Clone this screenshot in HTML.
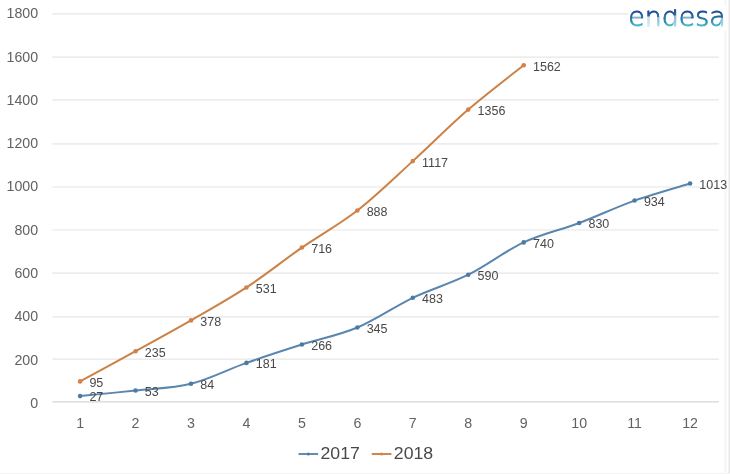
<!DOCTYPE html>
<html lang="es">
<head>
<meta charset="utf-8">
<title>endesa 2017 - 2018</title>
<style>
html,body{margin:0;padding:0;background:#fff;}
body{width:730px;height:474px;overflow:hidden;}
svg{display:block;will-change:transform;filter:blur(0.4px);}
text{font-family:"Liberation Sans",sans-serif;}
.ax{font-size:14.2px;fill:#626262;}
.dl{font-size:12.5px;fill:#484848;}
.lg{font-size:16.2px;fill:#484848;}
.logo{font-family:"DejaVu Sans Light","DejaVu Sans",sans-serif;font-weight:200;font-size:27px;}
</style>
</head>
<body>
<svg width="730" height="474" viewBox="0 0 730 474">
<defs>
<linearGradient id="lg1" gradientUnits="userSpaceOnUse" x1="0" y1="9.5" x2="0" y2="26.5">
<stop offset="0" stop-color="#1c3f8e"/>
<stop offset="0.4" stop-color="#22669f"/>
<stop offset="0.75" stop-color="#2b93ad"/>
<stop offset="1" stop-color="#4fc3d4"/>
</linearGradient>
<clipPath id="lc"><rect x="620" y="9.3" width="110" height="21"/></clipPath>
</defs>
<rect x="0" y="0" width="730" height="474" fill="#ffffff"/>
<rect x="724.2" y="0" width="2.4" height="474" fill="#f7f7f8"/>
<rect x="728.5" y="0" width="1.5" height="474" fill="#e8e8ea"/>
<rect x="0" y="472.8" width="730" height="1.2" fill="#f4f4f4"/>

<line x1="52.4" y1="359.10" x2="718.9" y2="359.10" stroke="#e6e6e6" stroke-width="1.2"/>
<line x1="52.4" y1="316.80" x2="718.9" y2="316.80" stroke="#e6e6e6" stroke-width="1.2"/>
<line x1="52.4" y1="273.10" x2="718.9" y2="273.10" stroke="#e6e6e6" stroke-width="1.2"/>
<line x1="52.4" y1="230.00" x2="718.9" y2="230.00" stroke="#e6e6e6" stroke-width="1.2"/>
<line x1="52.4" y1="187.00" x2="718.9" y2="187.00" stroke="#e6e6e6" stroke-width="1.2"/>
<line x1="52.4" y1="143.80" x2="718.9" y2="143.80" stroke="#e6e6e6" stroke-width="1.2"/>
<line x1="52.4" y1="99.90" x2="718.9" y2="99.90" stroke="#e6e6e6" stroke-width="1.2"/>
<line x1="52.4" y1="57.20" x2="718.9" y2="57.20" stroke="#e6e6e6" stroke-width="1.2"/>
<line x1="52.4" y1="13.90" x2="718.9" y2="13.90" stroke="#e6e6e6" stroke-width="1.2"/>
<line x1="52.4" y1="401.90" x2="718.9" y2="401.90" stroke="#d6d6d6" stroke-width="1.2"/>
<text class="ax" x="38.1" y="408.00" text-anchor="end">0</text>
<text class="ax" x="38.1" y="364.50" text-anchor="end">200</text>
<text class="ax" x="38.1" y="321.20" text-anchor="end">400</text>
<text class="ax" x="38.1" y="278.10" text-anchor="end">600</text>
<text class="ax" x="38.1" y="234.50" text-anchor="end">800</text>
<text class="ax" x="38.1" y="191.20" text-anchor="end">1000</text>
<text class="ax" x="38.1" y="148.20" text-anchor="end">1200</text>
<text class="ax" x="38.1" y="105.00" text-anchor="end">1400</text>
<text class="ax" x="38.1" y="62.00" text-anchor="end">1600</text>
<text class="ax" x="38.1" y="18.00" text-anchor="end">1800</text>
<text class="ax" x="80.10" y="427.8" text-anchor="middle">1</text>
<text class="ax" x="135.55" y="427.8" text-anchor="middle">2</text>
<text class="ax" x="191.00" y="427.8" text-anchor="middle">3</text>
<text class="ax" x="246.45" y="427.8" text-anchor="middle">4</text>
<text class="ax" x="301.90" y="427.8" text-anchor="middle">5</text>
<text class="ax" x="357.35" y="427.8" text-anchor="middle">6</text>
<text class="ax" x="412.80" y="427.8" text-anchor="middle">7</text>
<text class="ax" x="468.25" y="427.8" text-anchor="middle">8</text>
<text class="ax" x="523.70" y="427.8" text-anchor="middle">9</text>
<text class="ax" x="579.15" y="427.8" text-anchor="middle">10</text>
<text class="ax" x="634.60" y="427.8" text-anchor="middle">11</text>
<text class="ax" x="690.05" y="427.8" text-anchor="middle">12</text>
<path d="M80.10,396.08 C89.34,395.15 117.07,392.52 135.55,390.48 C154.03,388.43 172.52,388.39 191.00,383.79 C209.48,379.19 227.97,369.42 246.45,362.88 C264.93,356.35 283.42,350.45 301.90,344.56 C320.38,338.67 338.87,335.33 357.35,327.53 C375.83,319.74 394.32,306.59 412.80,297.79 C431.28,288.98 449.77,283.96 468.25,274.72 C486.73,265.49 505.22,251.01 523.70,242.39 C542.18,233.77 560.67,229.96 579.15,222.99 C597.63,216.02 616.12,207.15 634.60,200.57 C653.08,194.00 680.81,186.38 690.05,183.54" fill="none" stroke="#5a87af" stroke-width="2" stroke-linejoin="round" stroke-linecap="round"/>
<circle cx="80.10" cy="396.08" r="2.3" fill="#4c7aa6"/>
<circle cx="135.55" cy="390.48" r="2.3" fill="#4c7aa6"/>
<circle cx="191.00" cy="383.79" r="2.3" fill="#4c7aa6"/>
<circle cx="246.45" cy="362.88" r="2.3" fill="#4c7aa6"/>
<circle cx="301.90" cy="344.56" r="2.3" fill="#4c7aa6"/>
<circle cx="357.35" cy="327.53" r="2.3" fill="#4c7aa6"/>
<circle cx="412.80" cy="297.79" r="2.3" fill="#4c7aa6"/>
<circle cx="468.25" cy="274.72" r="2.3" fill="#4c7aa6"/>
<circle cx="523.70" cy="242.39" r="2.3" fill="#4c7aa6"/>
<circle cx="579.15" cy="222.99" r="2.3" fill="#4c7aa6"/>
<circle cx="634.60" cy="200.57" r="2.3" fill="#4c7aa6"/>
<circle cx="690.05" cy="183.54" r="2.3" fill="#4c7aa6"/>
<path d="M80.10,381.42 C89.34,376.39 117.07,361.41 135.55,351.24 C154.03,341.08 172.52,331.05 191.00,320.42 C209.48,309.79 227.97,299.58 246.45,287.44 C264.93,275.30 283.42,260.39 301.90,247.56 C320.38,234.74 338.87,224.89 357.35,210.49 C375.83,196.08 394.32,177.94 412.80,161.12 C431.28,144.31 449.77,125.59 468.25,109.61 C486.73,93.62 514.46,72.60 523.70,65.20" fill="none" stroke="#cb8247" stroke-width="2" stroke-linejoin="round" stroke-linecap="round"/>
<circle cx="80.10" cy="381.42" r="2.3" fill="#d5804a"/>
<circle cx="135.55" cy="351.24" r="2.3" fill="#d5804a"/>
<circle cx="191.00" cy="320.42" r="2.3" fill="#d5804a"/>
<circle cx="246.45" cy="287.44" r="2.3" fill="#d5804a"/>
<circle cx="301.90" cy="247.56" r="2.3" fill="#d5804a"/>
<circle cx="357.35" cy="210.49" r="2.3" fill="#d5804a"/>
<circle cx="412.80" cy="161.12" r="2.3" fill="#d5804a"/>
<circle cx="468.25" cy="109.61" r="2.3" fill="#d5804a"/>
<circle cx="523.70" cy="65.20" r="2.3" fill="#d5804a"/>
<text class="dl" x="89.40" y="401.48">27</text>
<text class="dl" x="144.85" y="395.88">53</text>
<text class="dl" x="200.30" y="389.19">84</text>
<text class="dl" x="255.75" y="368.28">181</text>
<text class="dl" x="311.20" y="349.96">266</text>
<text class="dl" x="366.65" y="332.93">345</text>
<text class="dl" x="422.10" y="303.19">483</text>
<text class="dl" x="477.55" y="280.12">590</text>
<text class="dl" x="533.00" y="247.79">740</text>
<text class="dl" x="588.45" y="228.39">830</text>
<text class="dl" x="643.90" y="205.97">934</text>
<text class="dl" x="699.35" y="188.94">1013</text>
<text class="dl" x="89.40" y="386.82">95</text>
<text class="dl" x="144.85" y="356.64">235</text>
<text class="dl" x="200.30" y="325.82">378</text>
<text class="dl" x="255.75" y="292.84">531</text>
<text class="dl" x="311.20" y="252.96">716</text>
<text class="dl" x="366.65" y="215.89">888</text>
<text class="dl" x="422.10" y="166.52">1117</text>
<text class="dl" x="477.55" y="115.01">1356</text>
<text class="dl" x="533.00" y="70.60">1562</text>
<line x1="298.5" y1="454.0" x2="318.1" y2="454.0" stroke="#5a87af" stroke-width="1.9"/>
<circle cx="308.3" cy="454.0" r="1.5" fill="#4c7aa6"/>
<text class="lg" transform="translate(320.5,459.3) scale(1.093,1)">2017</text>
<line x1="371.8" y1="454.0" x2="391.4" y2="454.0" stroke="#cb8247" stroke-width="1.9"/>
<circle cx="381.6" cy="454.0" r="1.5" fill="#d5804a"/>
<text class="lg" transform="translate(393.8,459.3) scale(1.093,1)">2018</text>
<rect x="628.2" y="6" width="98" height="24" fill="#ffffff"/>
<g clip-path="url(#lc)"><text class="logo" x="628.2" y="25.9" fill="url(#lg1)" stroke="url(#lg1)" stroke-width="0.9" stroke-linejoin="round" textLength="97.5" lengthAdjust="spacingAndGlyphs">endesa</text></g>
<rect x="646.6" y="16.5" width="3.2" height="10.0" fill="#ffffff" fill-opacity="0.75"/>
<rect x="656.4" y="17.0" width="3.4" height="10.0" fill="#ffffff" fill-opacity="0.50"/>
<rect x="672.8" y="15.5" width="3.6" height="11.0" fill="#ffffff" fill-opacity="0.50"/>
<rect x="720.2" y="18.0" width="3.4" height="9.0" fill="#ffffff" fill-opacity="0.50"/>
<rect x="632.4" y="16.4" width="8.6" height="2.4" fill="#ffffff" fill-opacity="0.45"/>
<rect x="682.4" y="16.4" width="8.6" height="2.4" fill="#ffffff" fill-opacity="0.45"/>
</svg>
</body>
</html>
